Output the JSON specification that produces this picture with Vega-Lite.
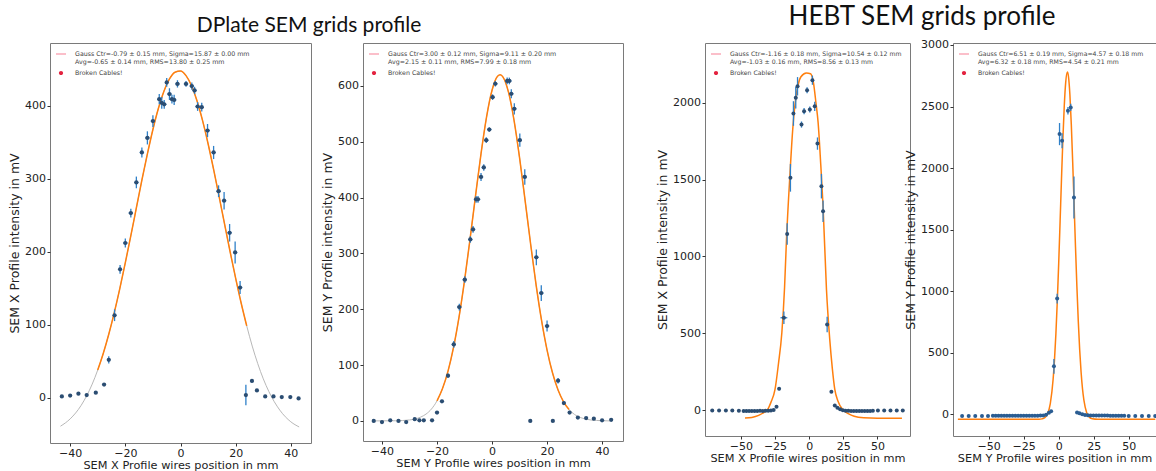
{
  "$schema": "https://vega.github.io/schema/vega-lite/v6.json",
  "padding": {"left": 8, "top": 4, "right": 0, "bottom": 0},
  "background": "white",
  "config": {
    "font": "DejaVu Sans",
    "view": {"stroke": "#7a7a7a", "strokeWidth": 1},
    "axis": {"domain": false, "grid": false, "ticks": true, "tickSize": 3, "tickColor": "#333", "labelFontSize": 11, "labelColor": "#222", "labelPadding": 1.5, "titleFontSize": 11.3, "titleFontWeight": "normal", "titleColor": "#222", "titlePadding": 1, "format": "d"},
    "axisY": {"titleFontSize": 12.5, "titlePadding": 3},
    "title": {"font": "Lato", "fontWeight": "normal", "color": "#111", "anchor": "middle", "frame": "group"}
  },
  "datasets": {
    "p1": [
      {"x":-43,"y":1.8,"ey":0.5,"ex":0},{"x":-40,"y":3,"ey":0.5,"ex":0},{"x":-37,"y":5.5,"ey":0.5,"ex":0},{"x":-34,"y":3.7,"ey":0.5,"ex":0},{"x":-30.7,"y":7,"ey":0.5,"ex":0},{"x":-27.7,"y":18,"ey":1,"ex":0},
      {"x":-26,"y":52,"ey":5,"ex":0.6},{"x":-23.9,"y":113,"ey":8,"ex":0.6},{"x":-21.9,"y":176,"ey":6,"ex":0.6},{"x":-20,"y":212,"ey":6,"ex":0.8},{"x":-18,"y":253,"ey":6,"ex":0.8},{"x":-16,"y":295,"ey":8,"ex":0.8},{"x":-14,"y":336,"ey":7,"ex":0.8},{"x":-12,"y":356,"ey":9,"ex":0.8},{"x":-10,"y":379,"ey":8,"ex":0.8},{"x":-7.7,"y":409,"ey":7,"ex":0.8},{"x":-6.8,"y":404,"ey":8,"ex":0.8},{"x":-5.9,"y":402,"ey":6,"ex":0.8},{"x":-5,"y":432,"ey":6,"ex":0.6},{"x":-4,"y":416,"ey":8,"ex":0.8},{"x":-3.1,"y":409,"ey":6,"ex":0.8},{"x":-2.3,"y":408,"ey":7,"ex":0.8},{"x":-1.1,"y":430,"ey":5,"ex":0.8},{"x":2,"y":430,"ey":4,"ex":0.8},{"x":4.1,"y":427,"ey":5,"ex":0.8},{"x":5.1,"y":421,"ey":5,"ex":0.8},{"x":6.2,"y":399,"ey":6,"ex":0.8},{"x":7.7,"y":398,"ey":6,"ex":0.8},{"x":9.8,"y":366,"ey":9,"ex":0.8},{"x":12,"y":336,"ey":9,"ex":0.8},{"x":13.8,"y":283,"ey":8,"ex":0.8},{"x":15.8,"y":270,"ey":12,"ex":0.8},{"x":17.8,"y":226,"ey":12,"ex":0.8},{"x":19.8,"y":199,"ey":15,"ex":0.8},{"x":21.6,"y":151,"ey":9,"ex":0.8},
      {"x":23.7,"y":3.7,"ey":14,"ex":0},{"x":25.9,"y":23,"ey":2,"ex":0},{"x":27.7,"y":10,"ey":1,"ex":0},{"x":30.7,"y":1.8,"ey":0.5,"ex":0},{"x":33.7,"y":1.8,"ey":0.5,"ex":0},{"x":36.7,"y":1,"ey":0.5,"ex":0},{"x":39.8,"y":1,"ey":0.5,"ex":0},{"x":42.8,"y":-1,"ey":0.5,"ex":0}
    ],
    "f1": [
      {"x":-43.5,"y":-39},{"x":-40,"y":-29},{"x":-36,"y":-10.4},{"x":-32,"y":18.7},{"x":-30,"y":38},{"x":-28,"y":60.7},{"x":-26,"y":87},{"x":-24,"y":116.7},{"x":-22,"y":149.5},{"x":-20,"y":185},{"x":-18,"y":222},{"x":-16,"y":260},{"x":-14,"y":298},{"x":-12,"y":334},{"x":-10,"y":367.5},{"x":-8,"y":396.5},{"x":-6,"y":420},{"x":-4,"y":436.7},{"x":-2,"y":446},{"x":0,"y":447.6},{"x":2,"y":441.3},{"x":4,"y":427.4},{"x":6,"y":406.6},{"x":8,"y":379.7},{"x":10,"y":348},{"x":12,"y":312.8},{"x":14,"y":275.6},{"x":16,"y":237.4},{"x":18,"y":199.7},{"x":20,"y":163.5},{"x":22,"y":129.5},{"x":24,"y":98.5},{"x":26,"y":70.8},{"x":28,"y":46.7},{"x":30,"y":26},{"x":32,"y":8.7},{"x":36,"y":-17},{"x":40,"y":-33},{"x":43,"y":-40}
    ],
    "p2": [
      {"x":-43,"y":0,"ey":1,"ex":0},{"x":-40,"y":-2,"ey":1,"ex":0},{"x":-37,"y":1,"ey":1,"ex":0},{"x":-34,"y":0,"ey":1,"ex":0},{"x":-31.2,"y":-2,"ey":1,"ex":0},{"x":-28.1,"y":3,"ey":1,"ex":0},{"x":-26.4,"y":1,"ey":1,"ex":0},{"x":-24.8,"y":1,"ey":1,"ex":0},{"x":-21.8,"y":1,"ey":1,"ex":0},
      {"x":-20,"y":15,"ey":2,"ex":0.6},{"x":-18.2,"y":35,"ey":3,"ex":0.6},{"x":-16,"y":81,"ey":4,"ex":0.6},{"x":-13.9,"y":137,"ey":6,"ex":0.8},{"x":-11.9,"y":204,"ey":6,"ex":0.8},{"x":-9.9,"y":253,"ey":6,"ex":0.8},{"x":-7.9,"y":325,"ey":6,"ex":0.8},{"x":-6.9,"y":343,"ey":6,"ex":0.8},{"x":-5.8,"y":397,"ey":6,"ex":0.8},{"x":-5.1,"y":397,"ey":6,"ex":0.8},{"x":-4,"y":437,"ey":7,"ex":0.8},{"x":-3,"y":454,"ey":6,"ex":0.8},{"x":-2.1,"y":503,"ey":5,"ex":0.8},{"x":-1,"y":522,"ey":4,"ex":0.8},{"x":0.2,"y":580,"ey":5,"ex":0.8},{"x":1.2,"y":604,"ey":5,"ex":0.8},{"x":5.5,"y":609,"ey":6,"ex":0.8},{"x":6.3,"y":609,"ey":6,"ex":0.8},{"x":7,"y":586,"ey":8,"ex":0.8},{"x":8.1,"y":559,"ey":10,"ex":0.8},{"x":10.1,"y":503,"ey":12,"ex":0.8},{"x":11.9,"y":437,"ey":14,"ex":0.8},{"x":13.9,"y":0,"ey":2,"ex":0},{"x":16.1,"y":293,"ey":14,"ex":0.8},{"x":17.9,"y":229,"ey":14,"ex":0.8},{"x":20,"y":170,"ey":10,"ex":0.8},{"x":22.1,"y":0,"ey":1,"ex":0},{"x":24,"y":72,"ey":5,"ex":0.6},{"x":26.1,"y":32,"ey":3,"ex":0.6},
      {"x":28.2,"y":15,"ey":2,"ex":0},{"x":31.2,"y":6,"ey":1,"ex":0},{"x":34.2,"y":5,"ey":1,"ex":0},{"x":37,"y":4,"ey":1,"ex":0},{"x":40,"y":1,"ey":1,"ex":0},{"x":43.3,"y":2,"ey":1,"ex":0}
    ],
    "f2": [
      {"x":-43,"y":0},{"x":-35,"y":0.3},{"x":-30,"y":1.7},{"x":-26,"y":6.7},{"x":-24,"y":12.2},{"x":-22,"y":21.4},{"x":-20,"y":36},{"x":-18,"y":58},{"x":-16,"y":89.2},{"x":-14,"y":131.6},{"x":-12,"y":185.9},{"x":-10,"y":251.4},{"x":-8,"y":325.5},{"x":-6,"y":403.3},{"x":-4,"y":478.9},{"x":-2,"y":544.3},{"x":0,"y":592.3},{"x":2,"y":617.3},{"x":3,"y":620},{"x":4,"y":616},{"x":6,"y":588.5},{"x":8,"y":538.4},{"x":10,"y":471.6},{"x":12,"y":395.6},{"x":14,"y":317.8},{"x":16,"y":244.3},{"x":18,"y":180},{"x":20,"y":126.9},{"x":22,"y":85.7},{"x":24,"y":55.4},{"x":26,"y":34.3},{"x":28,"y":20.3},{"x":30,"y":11.5},{"x":34,"y":3.3},{"x":38,"y":0.8},{"x":43,"y":0}
    ],
    "p3": [
      {"x":-71,"y":-3,"ey":0,"ex":0},{"x":-66,"y":-3,"ey":0,"ex":0},{"x":-61,"y":-3,"ey":0,"ex":0},{"x":-56.3,"y":-3,"ey":0,"ex":0},{"x":-51.5,"y":-4,"ey":0,"ex":0},
      {"x":-48,"y":-6,"ey":0,"ex":0},{"x":-46,"y":-6,"ey":0,"ex":0},{"x":-44,"y":-6,"ey":0,"ex":0},{"x":-42,"y":-6,"ey":0,"ex":0},{"x":-40,"y":-6,"ey":0,"ex":0},{"x":-38,"y":-6,"ey":0,"ex":0},{"x":-36,"y":-5,"ey":0,"ex":0},{"x":-34,"y":-6,"ey":0,"ex":0},{"x":-32,"y":-5,"ey":0,"ex":0},{"x":-30,"y":-4,"ey":0,"ex":0},{"x":-28,"y":-3,"ey":0,"ex":0},{"x":-26,"y":0,"ey":0,"ex":0},
      {"x":-23.9,"y":22,"ey":5,"ex":0},{"x":-22,"y":139,"ey":10,"ex":0.8},{"x":-18.5,"y":601,"ey":40,"ex":2.5},{"x":-16.1,"y":1147,"ey":70,"ex":1},{"x":-13.7,"y":1512,"ey":90,"ex":1},{"x":-11.5,"y":1931,"ey":80,"ex":1},{"x":-9.8,"y":2033,"ey":70,"ex":1},{"x":-8.5,"y":2108,"ey":60,"ex":1},{"x":-5.6,"y":1859,"ey":20,"ex":0.8},{"x":-3.7,"y":1946,"ey":20,"ex":0.8},{"x":-1.5,"y":2082,"ey":20,"ex":0.8},{"x":0.5,"y":1957,"ey":20,"ex":0.8},{"x":2.4,"y":2148,"ey":30,"ex":1},{"x":4.1,"y":1978,"ey":30,"ex":1},{"x":6.1,"y":1735,"ey":40,"ex":1},{"x":9,"y":1458,"ey":80,"ex":1},{"x":10.2,"y":1295,"ey":70,"ex":1},{"x":13.2,"y":557,"ey":50,"ex":1},{"x":16.3,"y":119,"ey":5,"ex":0},{"x":18.8,"y":30,"ey":3,"ex":0},{"x":20.7,"y":15,"ey":3,"ex":0},
      {"x":22.7,"y":5,"ey":0,"ex":0},{"x":24.7,"y":-2,"ey":0,"ex":0},{"x":26.7,"y":-4,"ey":0,"ex":0},{"x":28.7,"y":-5,"ey":0,"ex":0},{"x":30.7,"y":-6,"ey":0,"ex":0},{"x":32.7,"y":-6,"ey":0,"ex":0},{"x":34.7,"y":-6,"ey":0,"ex":0},{"x":36.7,"y":-6,"ey":0,"ex":0},{"x":38.7,"y":-6,"ey":0,"ex":0},{"x":40.7,"y":-6,"ey":0,"ex":0},{"x":42.7,"y":-6,"ey":0,"ex":0},{"x":44.7,"y":-6,"ey":0,"ex":0},{"x":46.7,"y":-5,"ey":0,"ex":0},
      {"x":50.4,"y":-3,"ey":0,"ex":0},{"x":55,"y":-3,"ey":0,"ex":0},{"x":59.6,"y":-3,"ey":0,"ex":0},{"x":64.2,"y":-3,"ey":0,"ex":0},{"x":68.6,"y":-3,"ey":0,"ex":0}
    ],
    "f3": [
      {"x":-47,"y":-52},{"x":-42,"y":-48},{"x":-37,"y":-35},{"x":-33,"y":-15},{"x":-30,"y":10},{"x":-28,"y":50},{"x":-25,"y":134},{"x":-22.5,"y":300},{"x":-20,"y":503},{"x":-18,"y":800},{"x":-16.6,"y":1110},{"x":-14,"y":1544},{"x":-12,"y":1830},{"x":-10.5,"y":1978},{"x":-8,"y":2120},{"x":-6,"y":2170},{"x":-2,"y":2195},{"x":1,"y":2190},{"x":3,"y":2140},{"x":5,"y":2000},{"x":6.6,"y":1870},{"x":8.5,"y":1600},{"x":10.2,"y":1328},{"x":12.7,"y":785},{"x":15.1,"y":460},{"x":17,"y":270},{"x":18.8,"y":134},{"x":21,"y":60},{"x":25,"y":0},{"x":29,"y":-25},{"x":33,"y":-40},{"x":40,"y":-50},{"x":50,"y":-53},{"x":68,"y":-53}
    ],
    "p4": [
      {"x":-69,"y":-14,"ey":0,"ex":0},{"x":-64.3,"y":-14,"ey":0,"ex":0},{"x":-59.6,"y":-14,"ey":0,"ex":0},{"x":-54.8,"y":-14,"ey":0,"ex":0},{"x":-50.5,"y":-14,"ey":0,"ex":0},
      {"x":-47,"y":-12,"ey":0,"ex":0},{"x":-45,"y":-12,"ey":0,"ex":0},{"x":-43,"y":-12,"ey":0,"ex":0},{"x":-41,"y":-12,"ey":0,"ex":0},{"x":-39,"y":-12,"ey":0,"ex":0},{"x":-37,"y":-12,"ey":0,"ex":0},{"x":-35,"y":-12,"ey":0,"ex":0},{"x":-33,"y":-12,"ey":0,"ex":0},{"x":-31,"y":-12,"ey":0,"ex":0},{"x":-29,"y":-12,"ey":0,"ex":0},{"x":-27,"y":-12,"ey":0,"ex":0},{"x":-25,"y":-12,"ey":0,"ex":0},{"x":-23,"y":-12,"ey":0,"ex":0},{"x":-21,"y":-12,"ey":0,"ex":0},{"x":-19,"y":-12,"ey":0,"ex":0},{"x":-17,"y":-12,"ey":0,"ex":0},{"x":-15,"y":-11,"ey":0,"ex":0},{"x":-13,"y":-10,"ey":0,"ex":0},{"x":-11,"y":-9,"ey":0,"ex":0},{"x":-9,"y":-4,"ey":0,"ex":0},{"x":-7,"y":12,"ey":0,"ex":0},{"x":-5.4,"y":25,"ey":0,"ex":0},
      {"x":-3.4,"y":390,"ey":60,"ex":0.8},{"x":-1.1,"y":940,"ey":40,"ex":0.8},{"x":0.6,"y":2276,"ey":90,"ex":0.8},{"x":2.4,"y":2222,"ey":60,"ex":0.8},{"x":6.6,"y":2466,"ey":30,"ex":0.8},{"x":8.6,"y":2493,"ey":30,"ex":0.8},{"x":10.9,"y":1761,"ey":170,"ex":0.8},{"x":13.1,"y":15,"ey":3,"ex":0},{"x":14.8,"y":8,"ey":0,"ex":0},
      {"x":16.8,"y":0,"ey":0,"ex":0},{"x":18.8,"y":-5,"ey":0,"ex":0},{"x":20.8,"y":-8,"ey":0,"ex":0},{"x":22.8,"y":-10,"ey":0,"ex":0},{"x":24.8,"y":-10,"ey":0,"ex":0},{"x":26.8,"y":-10,"ey":0,"ex":0},{"x":28.8,"y":-10,"ey":0,"ex":0},{"x":30.8,"y":-10,"ey":0,"ex":0},{"x":32.8,"y":-10,"ey":0,"ex":0},{"x":34.8,"y":-10,"ey":0,"ex":0},{"x":36.8,"y":-11,"ey":0,"ex":0},{"x":38.8,"y":-11,"ey":0,"ex":0},{"x":40.8,"y":-11,"ey":0,"ex":0},{"x":42.8,"y":-11,"ey":0,"ex":0},{"x":44.8,"y":-11,"ey":0,"ex":0},{"x":46.8,"y":-12,"ey":0,"ex":0},
      {"x":50,"y":-14,"ey":0,"ex":0},{"x":54.7,"y":-14,"ey":0,"ex":0},{"x":59.5,"y":-14,"ey":0,"ex":0},{"x":64.3,"y":-14,"ey":0,"ex":0},{"x":68.9,"y":-14,"ey":0,"ex":0}
    ],
    "f4": [
      {"x":-72,"y":-40},{"x":-30,"y":-40},{"x":-14,"y":-40},{"x":-12,"y":-37},{"x":-10,"y":-28},{"x":-8,"y":2},{"x":-6,"y":87},{"x":-4,"y":283},{"x":-3,"y":444},{"x":-2,"y":655},{"x":-1,"y":918},{"x":0,"y":1226},{"x":1,"y":1566},{"x":2,"y":1913},{"x":3,"y":2239},{"x":4,"y":2510},{"x":5,"y":2696},{"x":6.2,"y":2780},{"x":7,"y":2742},{"x":8,"y":2596},{"x":9,"y":2355},{"x":10,"y":2047},{"x":11,"y":1705},{"x":12,"y":1359},{"x":13,"y":1037},{"x":14,"y":754},{"x":15,"y":522},{"x":16,"y":342},{"x":17,"y":208},{"x":18,"y":115},{"x":20,"y":13},{"x":22,"y":-25},{"x":24,"y":-36},{"x":28,"y":-40},{"x":69,"y":-40}
    ]
  },
  "resolve": {"scale": {"color": "independent", "shape": "independent"}, "legend": {"color": "independent", "shape": "independent"}},
  "spacing": 32,
  "hconcat": [
    {
      "title": {"text": "DPlate SEM grids profile", "fontSize": 21, "offset": 7, "dx": 259},
      "bounds": "flush",
      "spacing": 52,
      "resolve": {"scale": {"color": "independent", "shape": "independent"}, "legend": {"color": "independent", "shape": "independent"}},
      "hconcat": [
        {
          "width": 261, "height": 400,
          "encoding": {
            "x": {"field": "x", "type": "quantitative", "scale": {"domain": [-47.3, 47.3], "nice": false, "zero": false}, "axis": {"title": "SEM X Profile wires position in mm", "values": [-40, -20, 0, 20, 40]}},
            "y": {"field": "y", "type": "quantitative", "scale": {"domain": [-62, 486], "nice": false, "zero": false}, "axis": {"title": "SEM X Profile intensity in mV", "values": [0, 100, 200, 300, 400]}}
          },
          "layer": [
            {"data": {"name": "f1"}, "mark": {"type": "line", "color": "#b8b8b8", "strokeWidth": 1, "interpolate": "monotone"}},
            {"data": {"name": "f1"}, "transform": [{"filter": {"field": "x", "range": [-31, 25]}}], "mark": {"type": "line", "color": "#ff7f0e", "strokeWidth": 1.5, "interpolate": "monotone"}},
            {"data": {"name": "p1"}, "mark": {"type": "errorbar", "color": "#2f80c8", "thickness": 1.3}, "encoding": {"yError": {"field": "ey"}}},
            {"data": {"name": "p1"}, "mark": {"type": "errorbar", "color": "#2f80c8", "thickness": 1.3}, "encoding": {"xError": {"field": "ex"}}},
            {"data": {"name": "p1"}, "mark": {"type": "point", "filled": true, "color": "#2b4d72", "size": 18, "opacity": 1}},
            {"data": {"values": [{"k": "Gauss Ctr=-0.79 ± 0.15 mm, Sigma=15.87 ± 0.00 mm|\u00a0\u00a0\u00a0\u00a0\u00a0\u00a0\u00a0\u00a0\u00a0Avg=-0.65 ± 0.14 mm, RMS=13.80 ± 0.25 mm"}, {"k": "Broken Cables!"}]},
             "mark": {"type": "point", "filled": true, "opacity": 0},
             "encoding": {
               "color": {"field": "k", "type": "nominal", "scale": {"domain": ["Gauss Ctr=-0.79 ± 0.15 mm, Sigma=15.87 ± 0.00 mm|\u00a0\u00a0\u00a0\u00a0\u00a0\u00a0\u00a0\u00a0\u00a0Avg=-0.65 ± 0.14 mm, RMS=13.80 ± 0.25 mm", "Broken Cables!"], "range": ["#f4607a", "#e3223f"]},
                 "legend": {"title": null, "orient": "top-left", "offset": 6, "padding": 0, "labelFontSize": 6.3, "labelColor": "#444", "labelOffset": 9, "labelLimit": 400, "symbolSize": 100, "symbolOpacity": 1, "symbolStrokeWidth": 0, "rowPadding": 2, "labelExpr": "split(datum.label, '|')"}},
               "shape": {"field": "k", "type": "nominal", "scale": {"domain": ["Gauss Ctr=-0.79 ± 0.15 mm, Sigma=15.87 ± 0.00 mm|\u00a0\u00a0\u00a0\u00a0\u00a0\u00a0\u00a0\u00a0\u00a0Avg=-0.65 ± 0.14 mm, RMS=13.80 ± 0.25 mm", "Broken Cables!"], "range": ["M-1,-0.08H1V0.08H-1Z", "M-0.42,0A0.42,0.42,0,1,1,0.42,0A0.42,0.42,0,1,1,-0.42,0Z"]},
                 "legend": {"title": null, "orient": "top-left", "offset": 6, "padding": 0, "labelFontSize": 6.3, "labelColor": "#444", "labelOffset": 9, "labelLimit": 400, "symbolSize": 100, "symbolOpacity": 1, "symbolStrokeWidth": 0, "rowPadding": 2, "labelExpr": "split(datum.label, '|')"}}
             }}
          ]
        },
        {
          "width": 260, "height": 398,
          "encoding": {
            "x": {"field": "x", "type": "quantitative", "scale": {"domain": [-46.9, 47.6], "nice": false, "zero": false}, "axis": {"title": "SEM Y Profile wires position in mm", "values": [-40, -20, 0, 20, 40]}},
            "y": {"field": "y", "type": "quantitative", "scale": {"domain": [-36, 677], "nice": false, "zero": false}, "axis": {"title": "SEM Y Profile intensity in mV", "values": [0, 100, 200, 300, 400, 500, 600]}}
          },
          "layer": [
            {"data": {"name": "f2"}, "mark": {"type": "line", "color": "#b8b8b8", "strokeWidth": 1, "interpolate": "monotone"}},
            {"data": {"name": "f2"}, "transform": [{"filter": {"field": "x", "range": [-21, 29]}}], "mark": {"type": "line", "color": "#ff7f0e", "strokeWidth": 1.5, "interpolate": "monotone"}},
            {"data": {"name": "p2"}, "mark": {"type": "errorbar", "color": "#2f80c8", "thickness": 1.3}, "encoding": {"yError": {"field": "ey"}}},
            {"data": {"name": "p2"}, "mark": {"type": "errorbar", "color": "#2f80c8", "thickness": 1.3}, "encoding": {"xError": {"field": "ex"}}},
            {"data": {"name": "p2"}, "mark": {"type": "point", "filled": true, "color": "#2b4d72", "size": 18, "opacity": 1}},
            {"data": {"values": [{"k": "Gauss Ctr=3.00 ± 0.12 mm, Sigma=9.11 ± 0.20 mm|\u00a0\u00a0\u00a0\u00a0\u00a0\u00a0\u00a0\u00a0\u00a0Avg=2.15 ± 0.11 mm, RMS=7.99 ± 0.18 mm"}, {"k": "Broken Cables!"}]},
             "mark": {"type": "point", "filled": true, "opacity": 0},
             "encoding": {
               "color": {"field": "k", "type": "nominal", "scale": {"domain": ["Gauss Ctr=3.00 ± 0.12 mm, Sigma=9.11 ± 0.20 mm|\u00a0\u00a0\u00a0\u00a0\u00a0\u00a0\u00a0\u00a0\u00a0Avg=2.15 ± 0.11 mm, RMS=7.99 ± 0.18 mm", "Broken Cables!"], "range": ["#f4607a", "#e3223f"]},
                 "legend": {"title": null, "orient": "top-left", "offset": 6, "padding": 0, "labelFontSize": 6.3, "labelColor": "#444", "labelOffset": 9, "labelLimit": 400, "symbolSize": 100, "symbolOpacity": 1, "symbolStrokeWidth": 0, "rowPadding": 2, "labelExpr": "split(datum.label, '|')"}},
               "shape": {"field": "k", "type": "nominal", "scale": {"domain": ["Gauss Ctr=3.00 ± 0.12 mm, Sigma=9.11 ± 0.20 mm|\u00a0\u00a0\u00a0\u00a0\u00a0\u00a0\u00a0\u00a0\u00a0Avg=2.15 ± 0.11 mm, RMS=7.99 ± 0.18 mm", "Broken Cables!"], "range": ["M-1,-0.08H1V0.08H-1Z", "M-0.42,0A0.42,0.42,0,1,1,0.42,0A0.42,0.42,0,1,1,-0.42,0Z"]},
                 "legend": {"title": null, "orient": "top-left", "offset": 6, "padding": 0, "labelFontSize": 6.3, "labelColor": "#444", "labelOffset": 9, "labelLimit": 400, "symbolSize": 100, "symbolOpacity": 1, "symbolStrokeWidth": 0, "rowPadding": 2, "labelExpr": "split(datum.label, '|')"}}
             }}
          ]
        }
      ]
    },
    {
      "title": {"text": "HEBT SEM grids profile", "fontSize": 26, "offset": 8, "dx": 217},
      "bounds": "flush",
      "spacing": 43,
      "resolve": {"scale": {"color": "independent", "shape": "independent"}, "legend": {"color": "independent", "shape": "independent"}},
      "hconcat": [
        {
          "width": 205, "height": 393,
          "encoding": {
            "x": {"field": "x", "type": "quantitative", "scale": {"domain": [-76.3, 73.9], "nice": false, "zero": false}, "axis": {"title": "SEM X Profile wires position in mm", "values": [-50, -25, 0, 25, 50]}},
            "y": {"field": "y", "type": "quantitative", "scale": {"domain": [-169, 2390], "nice": false, "zero": false}, "axis": {"title": "SEM X Profile intensity in mV", "values": [0, 500, 1000, 1500, 2000]}}
          },
          "layer": [
            {"data": {"name": "f3"}, "mark": {"type": "line", "color": "#ff7f0e", "strokeWidth": 1.5, "interpolate": "monotone"}},
            {"data": {"name": "p3"}, "mark": {"type": "errorbar", "color": "#2f80c8", "thickness": 1.3}, "encoding": {"yError": {"field": "ey"}}},
            {"data": {"name": "p3"}, "mark": {"type": "errorbar", "color": "#2f80c8", "thickness": 1.3}, "encoding": {"xError": {"field": "ex"}}},
            {"data": {"name": "p3"}, "mark": {"type": "point", "filled": true, "color": "#2b4d72", "size": 16, "opacity": 1}},
            {"data": {"values": [{"k": "Gauss Ctr=-1.16 ± 0.18 mm, Sigma=10.54 ± 0.12 mm|\u00a0\u00a0\u00a0\u00a0\u00a0\u00a0Avg=-1.03 ± 0.16 mm, RMS=8.56 ± 0.13 mm"}, {"k": "Broken Cables!"}]},
             "mark": {"type": "point", "filled": true, "opacity": 0},
             "encoding": {
               "color": {"field": "k", "type": "nominal", "scale": {"domain": ["Gauss Ctr=-1.16 ± 0.18 mm, Sigma=10.54 ± 0.12 mm|\u00a0\u00a0\u00a0\u00a0\u00a0\u00a0Avg=-1.03 ± 0.16 mm, RMS=8.56 ± 0.13 mm", "Broken Cables!"], "range": ["#f4607a", "#e3223f"]},
                 "legend": {"title": null, "orient": "top-left", "offset": 6, "padding": 0, "labelFontSize": 6.2, "labelColor": "#444", "labelOffset": 9, "labelLimit": 400, "symbolSize": 100, "symbolOpacity": 1, "symbolStrokeWidth": 0, "rowPadding": 2, "labelExpr": "split(datum.label, '|')"}},
               "shape": {"field": "k", "type": "nominal", "scale": {"domain": ["Gauss Ctr=-1.16 ± 0.18 mm, Sigma=10.54 ± 0.12 mm|\u00a0\u00a0\u00a0\u00a0\u00a0\u00a0Avg=-1.03 ± 0.16 mm, RMS=8.56 ± 0.13 mm", "Broken Cables!"], "range": ["M-1,-0.08H1V0.08H-1Z", "M-0.42,0A0.42,0.42,0,1,1,0.42,0A0.42,0.42,0,1,1,-0.42,0Z"]},
                 "legend": {"title": null, "orient": "top-left", "offset": 6, "padding": 0, "labelFontSize": 6.2, "labelColor": "#444", "labelOffset": 9, "labelLimit": 400, "symbolSize": 100, "symbolOpacity": 1, "symbolStrokeWidth": 0, "rowPadding": 2, "labelExpr": "split(datum.label, '|')"}}
             }}
          ]
        },
        {
          "width": 203, "height": 393,
          "encoding": {
            "x": {"field": "x", "type": "quantitative", "scale": {"domain": [-75.5, 69.5], "nice": false, "zero": false}, "axis": {"title": "SEM Y Profile wires position in mm", "values": [-50, -25, 0, 25, 50]}},
            "y": {"field": "y", "type": "quantitative", "scale": {"domain": [-176, 3016], "nice": false, "zero": false}, "axis": {"title": "SEM Y Profile intensity in mV", "values": [0, 500, 1000, 1500, 2000, 2500, 3000]}}
          },
          "layer": [
            {"data": {"name": "f4"}, "mark": {"type": "line", "color": "#ff7f0e", "strokeWidth": 1.5, "interpolate": "monotone"}},
            {"data": {"name": "p4"}, "mark": {"type": "errorbar", "color": "#2f80c8", "thickness": 1.3}, "encoding": {"yError": {"field": "ey"}}},
            {"data": {"name": "p4"}, "mark": {"type": "errorbar", "color": "#2f80c8", "thickness": 1.3}, "encoding": {"xError": {"field": "ex"}}},
            {"data": {"name": "p4"}, "mark": {"type": "point", "filled": true, "color": "#2b5d92", "size": 16, "opacity": 1}},
            {"data": {"values": [{"k": "Gauss Ctr=6.51 ± 0.19 mm, Sigma=4.57 ± 0.18 mm|\u00a0\u00a0\u00a0\u00a0\u00a0\u00a0\u00a0\u00a0\u00a0Avg=6.32 ± 0.18 mm, RMS=4.54 ± 0.21 mm"}, {"k": "Broken Cables!"}]},
             "mark": {"type": "point", "filled": true, "opacity": 0},
             "encoding": {
               "color": {"field": "k", "type": "nominal", "scale": {"domain": ["Gauss Ctr=6.51 ± 0.19 mm, Sigma=4.57 ± 0.18 mm|\u00a0\u00a0\u00a0\u00a0\u00a0\u00a0\u00a0\u00a0\u00a0Avg=6.32 ± 0.18 mm, RMS=4.54 ± 0.21 mm", "Broken Cables!"], "range": ["#f4607a", "#e3223f"]},
                 "legend": {"title": null, "orient": "top-left", "offset": 6, "padding": 0, "labelFontSize": 6.2, "labelColor": "#444", "labelOffset": 9, "labelLimit": 400, "symbolSize": 100, "symbolOpacity": 1, "symbolStrokeWidth": 0, "rowPadding": 2, "labelExpr": "split(datum.label, '|')"}},
               "shape": {"field": "k", "type": "nominal", "scale": {"domain": ["Gauss Ctr=6.51 ± 0.19 mm, Sigma=4.57 ± 0.18 mm|\u00a0\u00a0\u00a0\u00a0\u00a0\u00a0\u00a0\u00a0\u00a0Avg=6.32 ± 0.18 mm, RMS=4.54 ± 0.21 mm", "Broken Cables!"], "range": ["M-1,-0.08H1V0.08H-1Z", "M-0.42,0A0.42,0.42,0,1,1,0.42,0A0.42,0.42,0,1,1,-0.42,0Z"]},
                 "legend": {"title": null, "orient": "top-left", "offset": 6, "padding": 0, "labelFontSize": 6.2, "labelColor": "#444", "labelOffset": 9, "labelLimit": 400, "symbolSize": 100, "symbolOpacity": 1, "symbolStrokeWidth": 0, "rowPadding": 2, "labelExpr": "split(datum.label, '|')"}}
             }}
          ]
        }
      ]
    }
  ]
}
